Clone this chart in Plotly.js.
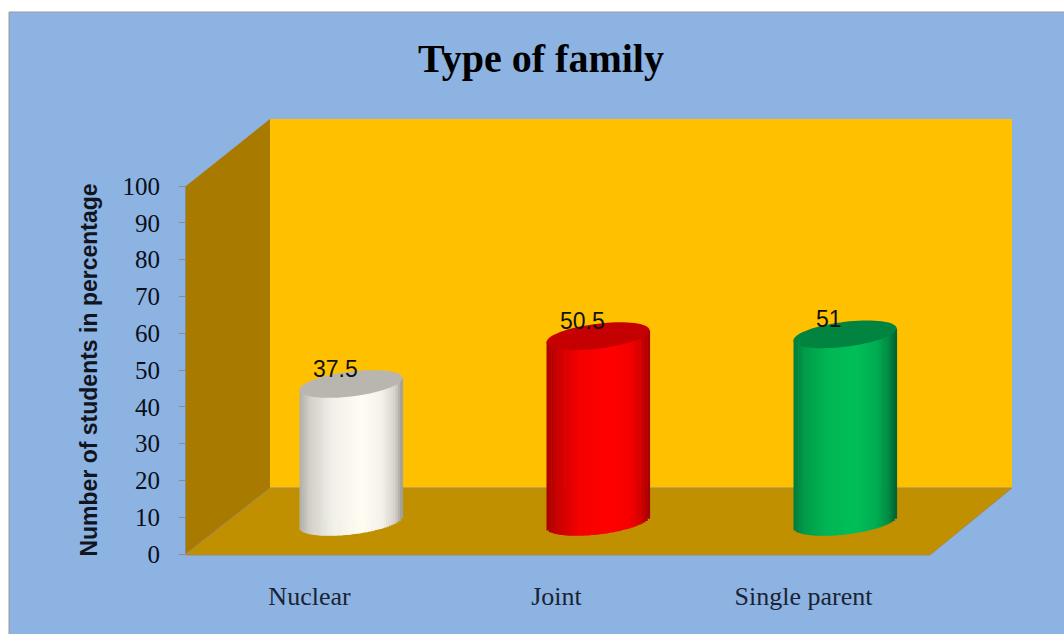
<!DOCTYPE html>
<html><head><meta charset="utf-8">
<script src="https://cdn.plot.ly/plotly-3.0.1.min.js"></script>
<style>html,body{margin:0;padding:0;background:#fff}#c{width:1064px;height:634px}</style>
</head><body><div id="c"></div>
<script>
const categories = ["Nuclear", "Joint", "Single parent"];
const values = [37.5, 50.5, 51];
const yTicks = [0,10,20,30,40,50,60,70,80,90,100];
const capColors = ["#B9B6AF", "#C40000", "#008440"];
const midColors = ["#FFFCF3", "#FF0000", "#00BF58"];
const stopPos = [-1, -0.8, -0.35, 0.2, 0.6, 0.85, 1];
const shadeWhite = ["#B0AEA8", "#D2D0C9", "#F2F0E9", "#FFFCF3", "#F4F2EB", "#D5D3CC", "#9A9892"];
const shadeRed   = ["#A80000", "#C80000", "#F60000", "#FF0000", "#F80000", "#D00000", "#A00000"];
const shadeGreen = ["#007A3C", "#009A4A", "#00B654", "#00BF58", "#00AE52", "#008A44", "#005E30"];

const W = 1064, H = 634;
const fx = p => p / W, fy = p => (H - p) / H;
const axisL = 186, axisR = 927, axisB = 554, axisT = 186;
const depthX = 41.5, depthY = 32;
const pxPerUnitY = (axisB - axisT) / 100;
const pxPerUnitX = (axisR - axisL) / 3;
const radX = 51.5, tiltPx = 6, radY = 12.5;
const stripN = 44;
const belowZero = 10;

const hex = c => [1,3,5].map(i => parseInt(c.substr(i,2),16));
function shade(stops, u){
  let i = 0; while (i < stopPos.length-2 && u > stopPos[i+1]) i++;
  const t = (u-stopPos[i])/(stopPos[i+1]-stopPos[i]);
  const a = hex(stops[i]), b = hex(stops[i+1]);
  return "rgb(" + a.map((v,k)=>Math.round(v+(b[k]-v)*t)).join(",") + ")";
}
const dx = px => px / pxPerUnitX, dy = px => px / pxPerUnitY;
const idx = categories.map((_,i)=>i);

const traces = [
 {type:"scatter", mode:"markers", x:idx, y:values, xaxis:"x", yaxis:"y", marker:{opacity:0, size:1}, hoverinfo:"skip", showlegend:false},
 {type:"bar", x:idx, y:values, xaxis:"x2", yaxis:"y2", width:dx(60),
  marker:{color:midColors, line:{width:0}}, hoverinfo:"x+y", showlegend:false, name:"Type of family"}
];
const shadeSets = [shadeWhite, shadeRed, shadeGreen];
for (let s=0; s<stripN; s++){
  const u0 = -1 + 2*s/stripN, u1 = -1 + 2*(s+1)/stripN, u = (u0+u1)/2;
  const bottom = dy(tiltPx*u - radY*Math.sqrt(Math.max(0,1-u*u)));
  const topLine = dy(tiltPx*u);
  traces.push({
    type:"bar", x:idx, xaxis:"x2", yaxis:"y2",
    base: idx.map(()=>bottom),
    y: values.map(v => v + topLine - bottom),
    width: dx(radX*(u1-u0)+0.6), offset: dx(radX*u0),
    marker:{color:shadeSets.map(st=>shade(st,u)), line:{width:0}},
    hoverinfo:"skip", showlegend:false
  });
}

function capPath(i){
  let d = "";
  for (let k=0;k<=72;k++){
    const t = k/72*2*Math.PI, c = Math.cos(t), n = Math.sin(t);
    const x = i + dx(radX*c), y = values[i] + dy(tiltPx*c + radY*n);
    d += (k?"L":"M") + x.toFixed(4) + "," + y.toFixed(4);
  }
  return d + "Z";
}
const poly = pts => "M" + pts.map(p=>fx(p[0]).toFixed(5)+","+fy(p[1]).toFixed(5)).join("L") + "Z";
const wall = (pts,fill,line) => ({type:"path", xref:"paper", yref:"paper", layer:"below", path:poly(pts), fillcolor:fill, line:{width:line?1:0, color:"#A08A5A"}});
const shapes = [
  {type:"rect", xref:"paper", yref:"paper", layer:"below", x0:fx(9), x1:1.01, y0:-0.01, y1:fy(12), fillcolor:"#8DB3E2", line:{color:"#9A9A9A", width:1}},
  wall([[270,119],[1012,119],[1012,488],[270,488]], "#FFC000"),
  wall([[186,186],[270,119],[270,488],[186,554]], "#A87B00"),
  wall([[186,554],[270,488],[1012,488],[930,555],[186,555]], "#C09000", true),
].concat(idx.map(i=>({type:"path", xref:"x2", yref:"y2", layer:"above", path:capPath(i), fillcolor:capColors[i], line:{width:0}})));

const annotations = idx.map(i=>({
  xref:"x2", yref:"y2", x:i, y:values[i], text:String(values[i]), showarrow:false,
  xshift:-16, yshift:15, font:{family:"Liberation Sans", size:23, color:"#111"}
}));

const layout = {
  width:W, height:H, margin:{l:0,r:0,t:0,b:0}, paper_bgcolor:"#fff", plot_bgcolor:"rgba(0,0,0,0)",
  showlegend:false, barmode:"overlay", shapes, annotations,
  title:{text:"<b>Type of family</b>", x:541/W, xref:"paper", xanchor:"center", y:fy(58), yref:"paper", yanchor:"middle",
         font:{family:"Liberation Serif", size:40, color:"#000"}},
  xaxis:{type:"linear", domain:[fx(axisL),fx(axisR)], range:[-0.5,2.5], anchor:"y", tickmode:"array", tickvals:idx, ticktext:categories,
         ticks:"", ticklabelstandoff:24, showgrid:false, zeroline:false, showline:false,
         tickfont:{family:"Liberation Serif", size:26, color:"#1a2333"}},
  yaxis:{domain:[fy(axisB),fy(axisT)], range:[0,100], anchor:"x", tickmode:"array", tickvals:yTicks,
         ticks:"outside", ticklen:6, tickcolor:"#8a8a8a", ticklabelstandoff:14, showgrid:false, zeroline:false, showline:true, linecolor:"#8a8a8a",
         tickfont:{family:"Liberation Serif", size:25, color:"#0a0f18"},
         title:{text:"<b>Number of students in percentage</b>", standoff:18, font:{family:"Liberation Sans", size:23, color:"#10151f"}}},
  xaxis2:{domain:[fx(axisL+depthX),fx(axisR+depthX)], range:[-0.5,2.5], anchor:"y2", visible:false},
  yaxis2:{domain:[fy(axisB-depthY+belowZero*pxPerUnitY),fy(axisT-depthY)], range:[-belowZero,100], anchor:"x2", visible:false}
};
Plotly.newPlot("c", traces, layout, {displayModeBar:false, staticPlot:true});
</script></body></html>
